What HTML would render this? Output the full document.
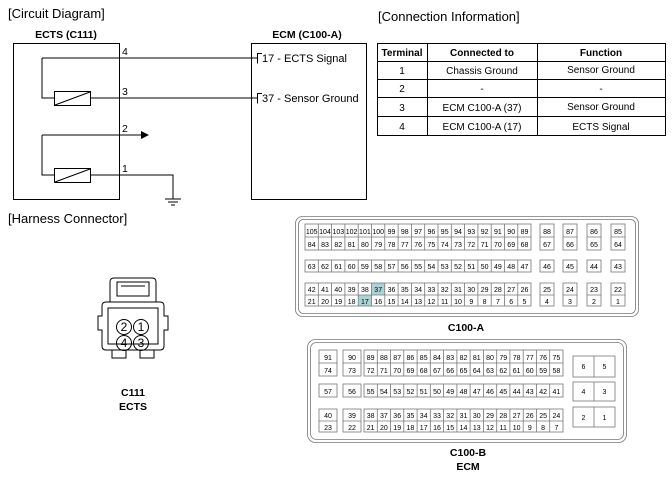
<!DOCTYPE html>
<html><head><meta charset="utf-8"><style>
html,body{margin:0;padding:0;background:#fff;}
svg{display:block;font-family:"Liberation Sans",Arial,sans-serif;}
.s{fill:none;stroke:#000;stroke-width:1}
.g{fill:none;stroke:#777;stroke-width:0.8}
.n{font-size:7px;text-anchor:middle;fill:#000}
.b{font-weight:bold;font-size:10.5px;text-anchor:middle}
.t{font-size:10.5px}
</style></head><body>
<svg width="672" height="478" viewBox="0 0 672 478" xmlns="http://www.w3.org/2000/svg">
<text x="8" y="18" font-size="13">[Circuit Diagram]</text>
<text x="378" y="21" font-size="13">[Connection Information]</text>
<text x="8" y="223" font-size="13">[Harness Connector]</text>

<!-- circuit -->
<text x="66" y="38" class="b">ECTS (C111)</text>
<text x="307" y="38" class="b">ECM (C100-A)</text>
<rect x="13.5" y="43.5" width="106" height="156" class="s" stroke="#555"/>
<rect x="251.5" y="43.5" width="115" height="156" class="s" stroke="#555"/>
<path class="s" d="M42 58H257 M42 58V98H54 M90 98H257 M42 135H141 M42 135V175H54 M90 175H173V199 M165 199H181 M168 202H178 M171 205H175"/>
<polygon points="141,131 149,135 141,139"/>
<rect x="54.5" y="91.5" width="36" height="14" class="s"/>
<path class="s" d="M55 105L90 92"/>
<rect x="54.5" y="168.5" width="36" height="14" class="s"/>
<path class="s" d="M55 182L90 169"/>
<path class="s" d="M262 53.5H257.5V63.5 M262 93.5H257.5V103.5"/>
<text x="122" y="55" class="t">4</text>
<text x="122" y="95" class="t">3</text>
<text x="122" y="132" class="t">2</text>
<text x="122" y="172" class="t">1</text>
<text x="262" y="62" font-size="11">17 - ECTS Signal</text>
<text x="262" y="102" font-size="11">37 - Sensor Ground</text>

<!-- table -->
<g font-size="10" text-anchor="middle">
<rect x="377.5" y="43.5" width="288" height="92" class="s"/>
<path class="s" d="M377 61.5H665 M377 79.5H665 M377 97.5H665 M377 116.5H665 M427.5 43V135 M537.5 43V135"/>
<text x="402" y="56" font-weight="bold">Terminal</text>
<text x="482" y="56" font-weight="bold">Connected to</text>
<text x="601" y="56" font-weight="bold">Function</text>
<text x="402" y="74">1</text><text x="482" y="74">Chassis Ground</text><text x="601" y="73">Sensor Ground</text>
<text x="402" y="92">2</text><text x="482" y="92">-</text><text x="601" y="92">-</text>
<text x="402" y="111">3</text><text x="482" y="111">ECM C100-A (37)</text><text x="601" y="110">Sensor Ground</text>
<text x="402" y="130">4</text><text x="482" y="130">ECM C100-A (17)</text><text x="601" y="130">ECTS Signal</text>
</g>

<!-- C111 -->
<g class="s" stroke-width="1.2">
<path d="M110 302V282Q110 278 114 278H152Q156 278 156 282V302"/>
<path d="M117 282H149V296H117Z M121 286H145"/>
<path d="M106 302H160Q164 302 164 306V316H168V330H164V346Q164 350 160 350H106Q102 350 102 346V330H98V316H102V306Q102 302 106 302Z"/>
<path d="M108 308H158V344H108Z" stroke-width="1"/>
<path d="M112 350V358H126V350 M140 350V358H154V350"/>
<circle cx="124" cy="327" r="7.5"/><circle cx="141" cy="327" r="7.5"/>
<circle cx="124" cy="343" r="7.5"/><circle cx="141" cy="343" r="7.5"/>
</g>
<g font-size="12" text-anchor="middle">
<text x="124" y="331">2</text><text x="141" y="331">1</text>
<text x="124" y="347">4</text><text x="141" y="347">3</text>
</g>
<text x="133" y="396" class="b">C111</text>
<text x="133" y="410" class="b">ECTS</text>

<!-- C100-A -->
<rect x="295.5" y="216.5" width="343" height="100" rx="7" class="g"/>
<rect x="298.5" y="219.5" width="337" height="94" rx="5" class="g"/>
<rect x="371.5" y="283" width="13.3" height="12" fill="#a8d4d8"/>
<rect x="358.2" y="295" width="13.3" height="11" fill="#a8d4d8"/>
<g class="g" stroke="#555">
<rect x="305" y="224" width="226" height="26"/><path d="M305 237H531"/>
<rect x="305" y="260" width="226" height="12"/>
<rect x="305" y="283" width="226" height="23"/><path d="M305 295H531"/>
<path d="M318.3 224V250M331.6 224V250M344.9 224V250M358.2 224V250M371.5 224V250M384.8 224V250M398.1 224V250M411.4 224V250M424.7 224V250M438 224V250M451.3 224V250M464.6 224V250M477.9 224V250M491.2 224V250M504.5 224V250M517.8 224V250"/>
<path d="M318.3 260V272M331.6 260V272M344.9 260V272M358.2 260V272M371.5 260V272M384.8 260V272M398.1 260V272M411.4 260V272M424.7 260V272M438 260V272M451.3 260V272M464.6 260V272M477.9 260V272M491.2 260V272M504.5 260V272M517.8 260V272"/>
<path d="M318.3 283V306M331.6 283V306M344.9 283V306M358.2 283V306M371.5 283V306M384.8 283V306M398.1 283V306M411.4 283V306M424.7 283V306M438 283V306M451.3 283V306M464.6 283V306M477.9 283V306M491.2 283V306M504.5 283V306M517.8 283V306"/>
<rect x="540" y="224" width="14" height="26"/><rect x="563" y="224" width="14" height="26"/><rect x="587" y="224" width="14" height="26"/><rect x="611" y="224" width="14" height="26"/>
<path d="M540 237H554M563 237H577M587 237H601M611 237H625"/>
<rect x="540" y="260" width="14" height="12"/><rect x="563" y="260" width="14" height="12"/><rect x="587" y="260" width="14" height="12"/><rect x="611" y="260" width="14" height="12"/>
<rect x="540" y="283" width="14" height="23"/><rect x="563" y="283" width="14" height="23"/><rect x="587" y="283" width="14" height="23"/><rect x="611" y="283" width="14" height="23"/>
<path d="M540 295H554M563 295H577M587 295H601M611 295H625"/>
</g>
<g class="n">
<text x="311.7" y="234">105</text><text x="325" y="234">104</text><text x="338.3" y="234">103</text><text x="351.6" y="234">102</text><text x="364.9" y="234">101</text><text x="378.2" y="234">100</text><text x="391.5" y="234">99</text><text x="404.8" y="234">98</text><text x="418.1" y="234">97</text><text x="431.4" y="234">96</text><text x="444.7" y="234">95</text><text x="458" y="234">94</text><text x="471.3" y="234">93</text><text x="484.6" y="234">92</text><text x="497.9" y="234">91</text><text x="511.2" y="234">90</text><text x="524.5" y="234">89</text>
<text x="311.7" y="247">84</text><text x="325" y="247">83</text><text x="338.3" y="247">82</text><text x="351.6" y="247">81</text><text x="364.9" y="247">80</text><text x="378.2" y="247">79</text><text x="391.5" y="247">78</text><text x="404.8" y="247">77</text><text x="418.1" y="247">76</text><text x="431.4" y="247">75</text><text x="444.7" y="247">74</text><text x="458" y="247">73</text><text x="471.3" y="247">72</text><text x="484.6" y="247">71</text><text x="497.9" y="247">70</text><text x="511.2" y="247">69</text><text x="524.5" y="247">68</text>
<text x="311.7" y="269">63</text><text x="325" y="269">62</text><text x="338.3" y="269">61</text><text x="351.6" y="269">60</text><text x="364.9" y="269">59</text><text x="378.2" y="269">58</text><text x="391.5" y="269">57</text><text x="404.8" y="269">56</text><text x="418.1" y="269">55</text><text x="431.4" y="269">54</text><text x="444.7" y="269">53</text><text x="458" y="269">52</text><text x="471.3" y="269">51</text><text x="484.6" y="269">50</text><text x="497.9" y="269">49</text><text x="511.2" y="269">48</text><text x="524.5" y="269">47</text>
<text x="311.7" y="292">42</text><text x="325" y="292">41</text><text x="338.3" y="292">40</text><text x="351.6" y="292">39</text><text x="364.9" y="292">38</text><text x="378.2" y="292">37</text><text x="391.5" y="292">36</text><text x="404.8" y="292">35</text><text x="418.1" y="292">34</text><text x="431.4" y="292">33</text><text x="444.7" y="292">32</text><text x="458" y="292">31</text><text x="471.3" y="292">30</text><text x="484.6" y="292">29</text><text x="497.9" y="292">28</text><text x="511.2" y="292">27</text><text x="524.5" y="292">26</text>
<text x="311.7" y="304">21</text><text x="325" y="304">20</text><text x="338.3" y="304">19</text><text x="351.6" y="304">18</text><text x="364.9" y="304">17</text><text x="378.2" y="304">16</text><text x="391.5" y="304">15</text><text x="404.8" y="304">14</text><text x="418.1" y="304">13</text><text x="431.4" y="304">12</text><text x="444.7" y="304">11</text><text x="458" y="304">10</text><text x="471.3" y="304">9</text><text x="484.6" y="304">8</text><text x="497.9" y="304">7</text><text x="511.2" y="304">6</text><text x="524.5" y="304">5</text>
<text x="547" y="234">88</text><text x="570" y="234">87</text><text x="594" y="234">86</text><text x="618" y="234">85</text>
<text x="547" y="247">67</text><text x="570" y="247">66</text><text x="594" y="247">65</text><text x="618" y="247">64</text>
<text x="547" y="269">46</text><text x="570" y="269">45</text><text x="594" y="269">44</text><text x="618" y="269">43</text>
<text x="547" y="292">25</text><text x="570" y="292">24</text><text x="594" y="292">23</text><text x="618" y="292">22</text>
<text x="547" y="304">4</text><text x="570" y="304">3</text><text x="594" y="304">2</text><text x="618" y="304">1</text>
</g>
<text x="466" y="331" class="b">C100-A</text>

<!-- C100-B -->
<rect x="307.5" y="339.5" width="319" height="103" rx="8" class="g"/>
<rect x="310.5" y="342.5" width="313" height="97" rx="6" class="g"/>
<g class="g" stroke="#555">
<rect x="364" y="350" width="199" height="26"/><path d="M364 363H563"/>
<rect x="364" y="384" width="199" height="13"/>
<rect x="364" y="409" width="199" height="23"/><path d="M364 421H563"/>
<path d="M377.3 350V376M390.5 350V376M403.8 350V376M417.1 350V376M430.3 350V376M443.6 350V376M456.9 350V376M470.1 350V376M483.4 350V376M496.7 350V376M509.9 350V376M523.2 350V376M536.5 350V376M549.7 350V376"/>
<path d="M377.3 384V397M390.5 384V397M403.8 384V397M417.1 384V397M430.3 384V397M443.6 384V397M456.9 384V397M470.1 384V397M483.4 384V397M496.7 384V397M509.9 384V397M523.2 384V397M536.5 384V397M549.7 384V397"/>
<path d="M377.3 409V432M390.5 409V432M403.8 409V432M417.1 409V432M430.3 409V432M443.6 409V432M456.9 409V432M470.1 409V432M483.4 409V432M496.7 409V432M509.9 409V432M523.2 409V432M536.5 409V432M549.7 409V432"/>
<rect x="319" y="350" width="18" height="26"/><rect x="343" y="350" width="18" height="26"/><path d="M319 363H337M343 363H361"/>
<rect x="319" y="384" width="18" height="13"/><rect x="343" y="384" width="18" height="13"/>
<rect x="319" y="409" width="18" height="23"/><rect x="343" y="409" width="18" height="23"/><path d="M319 421H337M343 421H361"/>
<rect x="573" y="356" width="42" height="21"/><path d="M594 356V377"/>
<rect x="573" y="382" width="42" height="19"/><path d="M594 382V401"/>
<rect x="573" y="407" width="42" height="20"/><path d="M594 407V427"/>
</g>
<g class="n">
<text x="328" y="360">91</text><text x="352" y="360">90</text>
<text x="370.6" y="360">89</text><text x="383.9" y="360">88</text><text x="397.2" y="360">87</text><text x="410.4" y="360">86</text><text x="423.7" y="360">85</text><text x="437" y="360">84</text><text x="450.2" y="360">83</text><text x="463.5" y="360">82</text><text x="476.8" y="360">81</text><text x="490" y="360">80</text><text x="503.3" y="360">79</text><text x="516.6" y="360">78</text><text x="529.8" y="360">77</text><text x="543.1" y="360">76</text><text x="556.4" y="360">75</text>
<text x="328" y="373">74</text><text x="352" y="373">73</text>
<text x="370.6" y="373">72</text><text x="383.9" y="373">71</text><text x="397.2" y="373">70</text><text x="410.4" y="373">69</text><text x="423.7" y="373">68</text><text x="437" y="373">67</text><text x="450.2" y="373">66</text><text x="463.5" y="373">65</text><text x="476.8" y="373">64</text><text x="490" y="373">63</text><text x="503.3" y="373">62</text><text x="516.6" y="373">61</text><text x="529.8" y="373">60</text><text x="543.1" y="373">59</text><text x="556.4" y="373">58</text>
<text x="328" y="394">57</text><text x="352" y="394">56</text>
<text x="370.6" y="394">55</text><text x="383.9" y="394">54</text><text x="397.2" y="394">53</text><text x="410.4" y="394">52</text><text x="423.7" y="394">51</text><text x="437" y="394">50</text><text x="450.2" y="394">49</text><text x="463.5" y="394">48</text><text x="476.8" y="394">47</text><text x="490" y="394">46</text><text x="503.3" y="394">45</text><text x="516.6" y="394">44</text><text x="529.8" y="394">43</text><text x="543.1" y="394">42</text><text x="556.4" y="394">41</text>
<text x="328" y="418">40</text><text x="352" y="418">39</text>
<text x="370.6" y="418">38</text><text x="383.9" y="418">37</text><text x="397.2" y="418">36</text><text x="410.4" y="418">35</text><text x="423.7" y="418">34</text><text x="437" y="418">33</text><text x="450.2" y="418">32</text><text x="463.5" y="418">31</text><text x="476.8" y="418">30</text><text x="490" y="418">29</text><text x="503.3" y="418">28</text><text x="516.6" y="418">27</text><text x="529.8" y="418">26</text><text x="543.1" y="418">25</text><text x="556.4" y="418">24</text>
<text x="328" y="430">23</text><text x="352" y="430">22</text>
<text x="370.6" y="430">21</text><text x="383.9" y="430">20</text><text x="397.2" y="430">19</text><text x="410.4" y="430">18</text><text x="423.7" y="430">17</text><text x="437" y="430">16</text><text x="450.2" y="430">15</text><text x="463.5" y="430">14</text><text x="476.8" y="430">13</text><text x="490" y="430">12</text><text x="503.3" y="430">11</text><text x="516.6" y="430">10</text><text x="529.8" y="430">9</text><text x="543.1" y="430">8</text><text x="556.4" y="430">7</text>
<text x="583.5" y="369">6</text><text x="604.5" y="369">5</text>
<text x="583.5" y="394">4</text><text x="604.5" y="394">3</text>
<text x="583.5" y="420">2</text><text x="604.5" y="420">1</text>
</g>
<text x="468" y="456" class="b">C100-B</text>
<text x="468" y="470" class="b">ECM</text>
</svg>
</body></html>
